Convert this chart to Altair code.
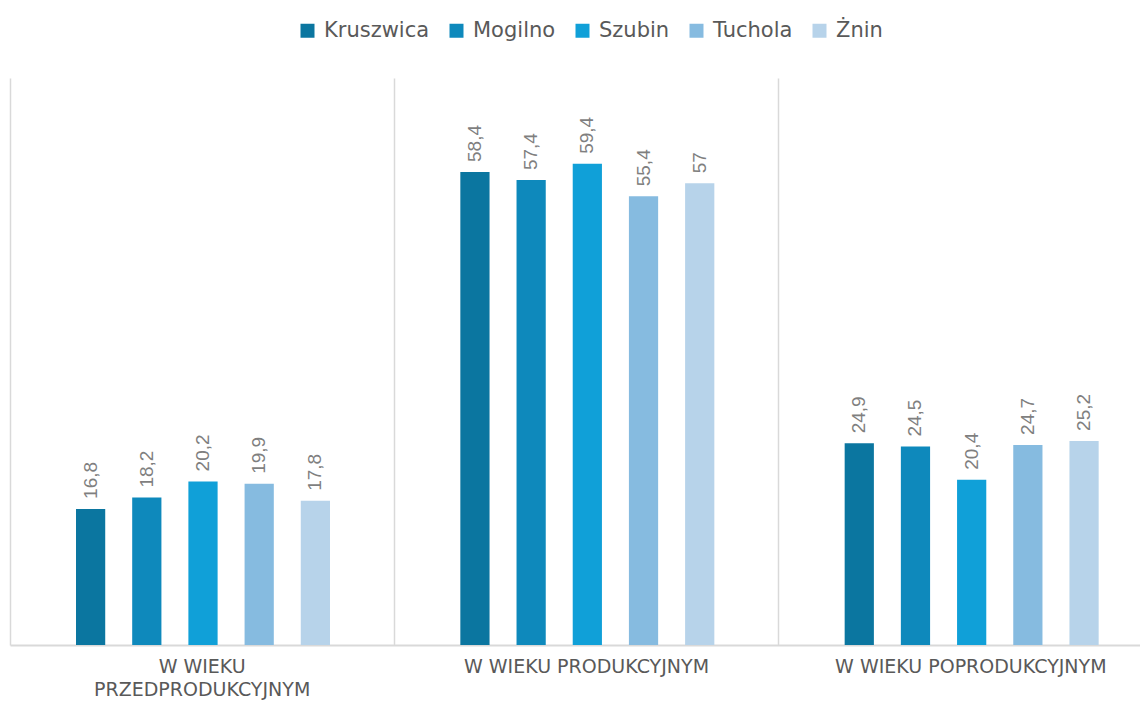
import altair as alt
import pandas as pd

groups = ["W WIEKU PRZEDPRODUKCYJNYM", "W WIEKU PRODUKCYJNYM", "W WIEKU POPRODUKCYJNYM"]
cities = ["Kruszwica", "Mogilno", "Szubin", "Tuchola", "Żnin"]
colors = ["#0B76A0", "#0E89BC", "#10A0D8", "#86BBE0", "#B7D3EA"]

kruszwica = [16.8, 58.4, 24.9]
mogilno = [18.2, 57.4, 24.5]
szubin = [20.2, 59.4, 20.4]
tuchola = [19.9, 55.4, 24.7]
znin = [17.8, 57.0, 25.2]

series = [kruszwica, mogilno, szubin, tuchola, znin]
rows = []
for city, vals in zip(cities, series):
    for g, v in zip(groups, vals):
        rows.append({"group": g, "city": city, "value": v,
                     "label": f"{v:g}".replace(".", ",")})
df = pd.DataFrame(rows)

W = 1130        # visible plot width (window clips the rest, like the reference)
FULL = 1153     # full width of the three category bands
H = 567
TOP = 70

x = alt.X(
    "group:N", sort=groups,
    scale=alt.Scale(paddingInner=0, paddingOuter=0, range=[0, FULL]),
    axis=alt.Axis(
        title=None, labelAngle=0, bandPosition=0,
        grid=True, gridColor="#D9D9D9", gridWidth=1.5,
        ticks=False, domainColor="#D9D9D9", domainWidth=2,
        labelPadding=12, labelFontSize=19, labelFont="DejaVu Sans",
        labelColor="#595959", labelLineHeight=23, labelLimit=0,
        labelExpr="datum.label == 'W WIEKU PRZEDPRODUKCYJNYM' ? ['W WIEKU', 'PRZEDPRODUKCYJNYM'] : datum.label",
    ),
)
xo = alt.XOffset("city:N", sort=cities,
                 scale=alt.Scale(range=[66, 320], paddingInner=0.48, paddingOuter=0))
y = alt.Y("value:Q", scale=alt.Scale(domain=[0, 70]), axis=None)

bars = alt.Chart(df).mark_bar().encode(
    x=x, xOffset=xo, y=y,
    color=alt.Color(
        "city:N", sort=cities,
        scale=alt.Scale(domain=cities, range=colors),
        legend=alt.Legend(
            title=None, orient="none", direction="horizontal",
            legendX=287, legendY=-58,
            symbolType="square", symbolSize=196, symbolStrokeWidth=0,
            symbolOpacity=1, labelFontSize=21, labelFont="DejaVu Sans",
            labelColor="#595959", labelOffset=6, columnPadding=16,
        ),
    ),
)

texts = alt.Chart(df).mark_text(
    angle=270, align="left", baseline="middle", dx=10,
    fontSize=19, font="Liberation Sans", color="#7F7F7F",
).encode(x=x, xOffset=xo, y=y, text="label:N")

chart = alt.layer(bars, texts).properties(
    width=W, height=H,
    autosize=alt.AutoSizeParams(type="none"),
    padding={"left": 2, "top": TOP, "right": 0, "bottom": 695 - TOP - H},
).configure_view(stroke=None)

chart.save("out.html", embed_options={"renderer": "svg", "actions": False})
